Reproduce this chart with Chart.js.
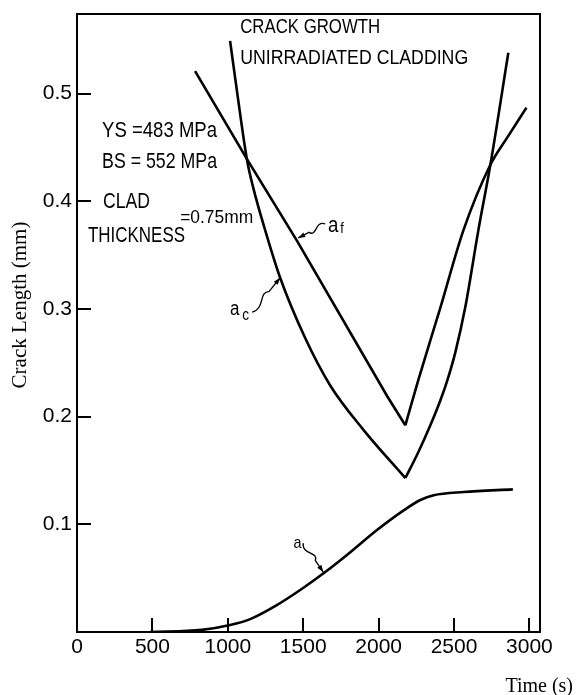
<!DOCTYPE html>
<html>
<head>
<meta charset="utf-8">
<style>
html,body{margin:0;padding:0;background:#fff;}
#wrap{position:relative;width:577px;height:695px;}
</style>
<script src="https://cdn.jsdelivr.net/npm/chart.js@4.4.1/dist/chart.umd.min.js"></script>
</head>
<body>
<div id="wrap"><canvas id="c" width="577" height="695"></canvas></div>
<script>
// ---------- data (time in s, crack length in mm) ----------
const xTickValues = [0, 500, 1000, 1500, 2000, 2500, 3000];
const yTickValues = [0.1, 0.2, 0.3, 0.4, 0.5];

// a_f : descending and rising branch
const afLeftTime    = [783, 1128, 1460, 2057, 2177];
const afLeftLength  = [0.521, 0.439, 0.363, 0.219, 0.192];
const afRightTime   = [2177, 2263, 2409, 2562, 2741, 2861, 2980];
const afRightLength = [0.192, 0.234, 0.301, 0.373, 0.434, 0.461, 0.487];

// a_c : descending and rising branch
const acLeftTime    = [1015, 1066, 1128, 1168, 1248, 1347, 1513, 1679, 1898, 2177];
const acLeftLength  = [0.549, 0.497, 0.438, 0.413, 0.373, 0.329, 0.273, 0.229, 0.188, 0.143];
const acRightTime   = [2177, 2263, 2343, 2409, 2456, 2509, 2575, 2661, 2741, 2860];
const acRightLength = [0.143, 0.167, 0.192, 0.215, 0.234, 0.260, 0.302, 0.373, 0.434, 0.538];

// a : crack growth
const aTime   = [485, 828, 1015, 1148, 1325, 1480, 1635, 1790, 1989, 2166, 2277, 2365, 2564, 2890];
const aLength = [0, 0.002, 0.0065, 0.012, 0.025, 0.039, 0.0545, 0.0715, 0.0947, 0.113, 0.1226, 0.127, 0.130, 0.1325];

const toPts = (t, v) => t.map((x, i) => ({x: x, y: v[i]}));

function lineSet(label, t, v, mode) {
  return {
    label: label,
    data: toPts(t, v),
    showLine: true,
    borderColor: '#000',
    borderWidth: 2.6,
    pointRadius: 0,
    fill: false,
    tension: 0,
    cubicInterpolationMode: mode
  };
}

const SANS = "'Liberation Sans', Arial, sans-serif";
const SERIF = "'Liberation Serif', 'Times New Roman', serif";

// ---------- annotation texts (positions in data units, alphabetic baseline) ----------
const notes = [
  {t: 'CRACK GROWTH',          x: 1082, y: 0.556, size: 21, w: 140},
  {t: 'UNIRRADIATED CLADDING', x: 1082, y: 0.528, size: 21, w: 228},
  {t: 'YS =483 MPa',           x: 166,  y: 0.4596, size: 22, w: 115},
  {t: 'BS = 552 MPa',          x: 166,  y: 0.4308, size: 22, w: 115},
  {t: 'CLAD',                  x: 173,  y: 0.3937, size: 22, w: 47},
  {t: 'THICKNESS',             x: 73,   y: 0.3621, size: 22, w: 97},
  {t: '=0.75mm',               x: 684,  y: 0.3798, size: 18, w: 73},
  {t: 'a', x: 1665, y: 0.3714, size: 22, w: 0},
  {t: 'f', x: 1745, y: 0.3705, size: 15, w: 0},
  {t: 'a', x: 1015, y: 0.2943, size: 20, w: 0},
  {t: 'c', x: 1095, y: 0.2897, size: 16, w: 0},
  {t: 'a', x: 1435, y: 0.078,  size: 17, w: 0}
];
// leader lines: from label to curve (data units)
const leaders = [
  {x0: 1646, y0: 0.379, x1: 1467, y1: 0.366},
  {x0: 1161, y0: 0.297, x1: 1347, y1: 0.329},
  {x0: 1500, y0: 0.0826, x1: 1633, y1: 0.0557}
];

const decor = {
  id: 'decor',
  afterDatasetsDraw(chart) {
    const ctx = chart.ctx, a = chart.chartArea, xs = chart.scales.x, ys = chart.scales.y;
    ctx.save();
    ctx.strokeStyle = '#000';
    ctx.fillStyle = '#000';
    ctx.lineCap = 'butt';
    // frame
    ctx.lineWidth = 2;
    ctx.beginPath();
    ctx.moveTo(a.left, a.top); ctx.lineTo(a.right, a.top);
    ctx.lineTo(a.right, a.bottom); ctx.lineTo(a.left, a.bottom); ctx.closePath();
    ctx.stroke();
    // inner tick marks
    ctx.beginPath();
    xTickValues.forEach(v => {
      if (v === 0) return;
      const px = Math.round(xs.getPixelForValue(v));
      ctx.moveTo(px, a.bottom); ctx.lineTo(px, a.bottom - 14);
    });
    yTickValues.forEach(v => {
      const py = Math.round(ys.getPixelForValue(v));
      ctx.moveTo(a.left, py); ctx.lineTo(a.left + 14, py);
    });
    ctx.stroke();

    // annotation texts (hand lettering: condensed)
    ctx.textBaseline = 'alphabetic';
    ctx.textAlign = 'left';
    notes.forEach(n => {
      const px = xs.getPixelForValue(n.x), py = ys.getPixelForValue(n.y);
      ctx.font = n.size + 'px ' + SANS;
      const mw = ctx.measureText(n.t).width;
      const sx = n.w ? n.w / mw : 0.85;
      ctx.save();
      ctx.translate(px, py);
      ctx.scale(sx, 1);
      ctx.fillText(n.t, 0, 0);
      ctx.restore();
    });

    // leaders with small wiggle and arrowhead
    ctx.lineWidth = 1.3;
    leaders.forEach(l => {
      const x0 = xs.getPixelForValue(l.x0), y0 = ys.getPixelForValue(l.y0);
      const x1 = xs.getPixelForValue(l.x1), y1 = ys.getPixelForValue(l.y1);
      const dx = x1 - x0, dy = y1 - y0, len = Math.hypot(dx, dy);
      const ux = dx / len, uy = dy / len, nx = -uy, ny = ux;
      const w = 4;
      ctx.beginPath();
      ctx.moveTo(x0, y0);
      ctx.bezierCurveTo(
        x0 + dx * 0.25 + nx * w * 2, y0 + dy * 0.25 + ny * w * 2,
        x0 + dx * 0.45 - nx * w * 2, y0 + dy * 0.45 - ny * w * 2,
        x0 + dx * 0.6, y0 + dy * 0.6);
      ctx.lineTo(x1, y1);
      ctx.stroke();
      const ah = 7, aw = 2.5;
      ctx.beginPath();
      ctx.moveTo(x1, y1);
      ctx.lineTo(x1 - ux * ah + nx * aw, y1 - uy * ah + ny * aw);
      ctx.lineTo(x1 - ux * ah - nx * aw, y1 - uy * ah - ny * aw);
      ctx.closePath();
      ctx.fill();
    });

    // axis titles
    ctx.font = "20px " + SERIF;
    ctx.textAlign = 'right';
    ctx.textBaseline = 'alphabetic';
    ctx.fillText('Time (s)', chart.width - 4, 692);

    ctx.save();
    ctx.translate(20.5, 305);
    ctx.rotate(-Math.PI / 2);
    ctx.font = "21px " + SERIF;
    ctx.textAlign = 'center';
    ctx.textBaseline = 'middle';
    ctx.fillText('Crack Length (mm)', 0, 0);
    ctx.restore();

    ctx.restore();
  }
};

new Chart(document.getElementById('c'), {
  type: 'scatter',
  data: {
    datasets: [
      lineSet('a_f', afLeftTime, afLeftLength, 'default'),
      lineSet('a_f', afRightTime, afRightLength, 'monotone'),
      lineSet('a_c', acLeftTime, acLeftLength, 'monotone'),
      lineSet('a_c', acRightTime, acRightLength, 'monotone'),
      lineSet('a', aTime, aLength, 'monotone')
    ]
  },
  options: {
    responsive: false,
    animation: false,
    devicePixelRatio: 1,
    layout: {padding: {top: 14, right: 37, left: 0, bottom: 0}},
    plugins: {legend: {display: false}, tooltip: {enabled: false}},
    scales: {
      x: {
        type: 'linear', min: 0, max: 3070,
        grid: {display: false}, border: {display: false},
        afterBuildTicks: s => { s.ticks = xTickValues.map(v => ({value: v})); },
        afterFit: s => { s.height = 63; },
        ticks: {
          color: '#000', padding: -5, maxRotation: 0, autoSkip: false,
          font: {family: SANS, size: 21},
          callback: v => String(v)
        }
      },
      y: {
        type: 'linear', min: 0, max: 0.574,
        grid: {display: false}, border: {display: false},
        afterBuildTicks: s => { s.ticks = yTickValues.map(v => ({value: v})); },
        afterFit: s => { s.width = 77; },
        ticks: {
          color: '#000', padding: -3, autoSkip: false,
          font: {family: SANS, size: 21},
          callback: v => v.toFixed(1)
        }
      }
    }
  },
  plugins: [decor]
});
</script>
</body>
</html>
